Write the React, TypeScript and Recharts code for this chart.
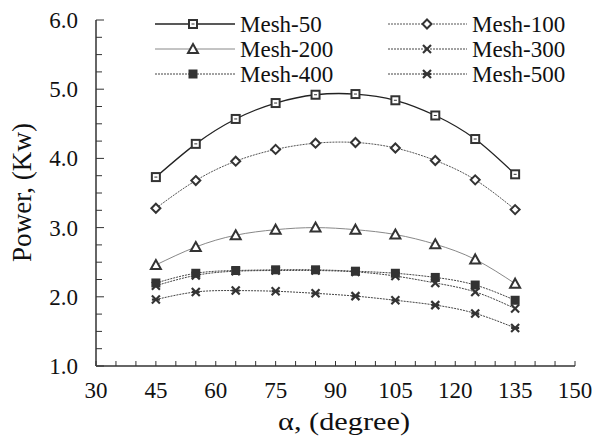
import { LineChart, Line, XAxis, YAxis, Label } from "recharts";

const angles = [45, 55, 65, 75, 85, 95, 105, 115, 125, 135];
const mesh50 = [3.73, 4.21, 4.57, 4.8, 4.92, 4.93, 4.84, 4.62, 4.28, 3.77];
const mesh100 = [3.28, 3.68, 3.96, 4.13, 4.22, 4.23, 4.15, 3.97, 3.69, 3.26];
const mesh200 = [2.46, 2.72, 2.89, 2.97, 3.0, 2.97, 2.9, 2.76, 2.54, 2.19];
const mesh300 = [2.16, 2.31, 2.37, 2.38, 2.38, 2.36, 2.3, 2.2, 2.07, 1.83];
const mesh400 = [2.2, 2.34, 2.38, 2.39, 2.39, 2.37, 2.34, 2.28, 2.17, 1.95];
const mesh500 = [1.96, 2.07, 2.09, 2.08, 2.05, 2.01, 1.95, 1.88, 1.76, 1.55];

const xTicks = Array.from({ length: 25 }, (_, i) => 30 + i * 5);
const yTicks = Array.from({ length: 21 }, (_, i) => 1 + i * 0.25);

const FONT = '"Liberation Serif", "Times New Roman", serif';
const INK = "#333333";

type Shape = "openSquare" | "diamond" | "triangle" | "cross" | "square" | "star";

const series: {
  key: string;
  values: number[];
  shape: Shape;
  stroke: string;
  width: number;
  dash?: string;
}[] = [
  { key: "Mesh-50", values: mesh50, shape: "openSquare", stroke: "#222", width: 1.3 },
  { key: "Mesh-100", values: mesh100, shape: "diamond", stroke: "#555", width: 1, dash: "2 1" },
  { key: "Mesh-200", values: mesh200, shape: "triangle", stroke: "#888", width: 1 },
  { key: "Mesh-300", values: mesh300, shape: "cross", stroke: "#444", width: 1, dash: "2 1" },
  { key: "Mesh-400", values: mesh400, shape: "square", stroke: "#444", width: 1, dash: "2 1" },
  { key: "Mesh-500", values: mesh500, shape: "star", stroke: "#444", width: 1, dash: "2 1" },
];

const data = angles.map((a, i) => {
  const row: Record<string, number> = { angle: a };
  series.forEach((s) => (row[s.key] = s.values[i]));
  return row;
});

function Marker({ shape, cx, cy }: { shape: Shape; cx: number; cy: number }) {
  switch (shape) {
    case "openSquare":
      return (
        <g>
          <rect x={cx - 4} y={cy - 4} width={8} height={8} fill="#fff" stroke={INK} strokeWidth={2} />
          <line x1={cx - 1.5} y1={cy} x2={cx + 1.5} y2={cy} stroke={INK} strokeWidth={1} />
        </g>
      );
    case "diamond":
      return (
        <polygon
          points={`${cx},${cy - 4.5} ${cx + 4.5},${cy} ${cx},${cy + 4.5} ${cx - 4.5},${cy}`}
          fill="#fff"
          stroke={INK}
          strokeWidth={2}
        />
      );
    case "triangle":
      return (
        <polygon
          points={`${cx},${cy - 5} ${cx + 5},${cy + 4} ${cx - 5},${cy + 4}`}
          fill="#fff"
          stroke={INK}
          strokeWidth={2}
        />
      );
    case "cross":
      return (
        <g stroke={INK} strokeWidth={2.2}>
          <line x1={cx - 4} y1={cy - 4} x2={cx + 4} y2={cy + 4} />
          <line x1={cx - 4} y1={cy + 4} x2={cx + 4} y2={cy - 4} />
        </g>
      );
    case "square":
      return <rect x={cx - 4.5} y={cy - 4.5} width={9} height={9} fill={INK} />;
    case "star":
      return (
        <g stroke={INK} strokeWidth={2.2}>
          <line x1={cx - 4} y1={cy - 4} x2={cx + 4} y2={cy + 4} />
          <line x1={cx - 4} y1={cy + 4} x2={cx + 4} y2={cy - 4} />
          <line x1={cx - 4} y1={cy} x2={cx + 4} y2={cy} />
        </g>
      );
  }
  return null;
}

const XTick = ({ x, y, payload }: any) => {
  const v = payload.value;
  const major = (v - 30) % 15 === 0;
  return (
    <g>
      <line x1={x} y1={y} x2={x} y2={y - 5} stroke={INK} strokeWidth={1} />
      {major && (
        <text x={x} y={y + 32} textAnchor="middle" fontSize={23} fontFamily={FONT} fill="#111">
          {v}
        </text>
      )}
    </g>
  );
};

const YTick = ({ x, y, payload }: any) => {
  const v = payload.value;
  const major = Math.abs(v - Math.round(v)) < 1e-6;
  return (
    <g>
      <line x1={x} y1={y} x2={x + (major ? 8 : 6)} y2={y} stroke={INK} strokeWidth={1} />
      {major && (
        <text x={x - 18} y={y + 8} textAnchor="end" fontSize={23} fontFamily={FONT} fill="#111">
          {v.toFixed(1)}
        </text>
      )}
    </g>
  );
};

// legend drawn as an overlay in page coordinates
const LegendBox = () => {
  const cols = [
    { x1: 155, x2: 235, mx: 193, tx: 240 },
    { x1: 388, x2: 467, mx: 427, tx: 472 },
  ];
  return (
    <svg
      width={595}
      height={100}
      style={{ position: "absolute", left: 0, top: 0, pointerEvents: "none" }}
    >
      {series.map((s, i) => {
        const c = cols[i % 2];
        const y = 24 + Math.floor(i / 2) * 25;
        return (
          <g key={s.key}>
            <line
              x1={c.x1}
              y1={y}
              x2={c.x2}
              y2={y}
              stroke={s.stroke}
              strokeWidth={s.width}
              strokeDasharray={s.dash}
            />
            <Marker shape={s.shape} cx={c.mx} cy={y} />
            <text x={c.tx} y={y + 8} fontSize={23} fontFamily={FONT} fill="#111">
              {s.key}
            </text>
          </g>
        );
      })}
    </svg>
  );
};

export default function App() {
  return (
    <div style={{ position: "absolute", left: 0, top: 0, width: 595, height: 441, background: "#fff" }}>
      <LineChart
        width={595}
        height={441}
        data={data}
        margin={{ top: 20, right: 20, bottom: 0, left: 0 }}
      >
        <XAxis
          dataKey="angle"
          type="number"
          domain={[30, 150]}
          ticks={xTicks}
          interval={0}
          tickSize={0}
          tickMargin={0}
          tick={<XTick />}
          height={75}
          axisLine={{ stroke: "#666", strokeWidth: 2 }}
        >
          <Label
            content={() => (
              <text
                x={278}
                y={430}
                fontSize={25}
                fontFamily={FONT}
                fill="#111"
                textLength={132}
                lengthAdjust="spacingAndGlyphs"
              >
                α, (degree)
              </text>
            )}
          />
        </XAxis>
        <YAxis
          type="number"
          domain={[1, 6]}
          ticks={yTicks}
          interval={0}
          tickSize={0}
          tickMargin={0}
          tick={<YTick />}
          width={96}
          axisLine={{ stroke: "#666", strokeWidth: 2 }}
        >
          <Label
            content={() => (
              <text
                x={-262}
                y={31}
                fontSize={27}
                fontFamily={FONT}
                fill="#111"
                textLength={139}
                lengthAdjust="spacingAndGlyphs"
                transform="rotate(-90)"
              >
                Power, (Kw)
              </text>
            )}
          />
        </YAxis>
        {series.map((s) => (
          <Line
            key={s.key}
            dataKey={s.key}
            type="natural"
            stroke={s.stroke}
            strokeWidth={s.width}
            strokeDasharray={s.dash}
            dot={(p: any) => <Marker key={p.index} shape={s.shape} cx={p.cx} cy={p.cy} />}
            activeDot={false}
            isAnimationActive={false}
          />
        ))}
      </LineChart>
      <LegendBox />
    </div>
  );
}
